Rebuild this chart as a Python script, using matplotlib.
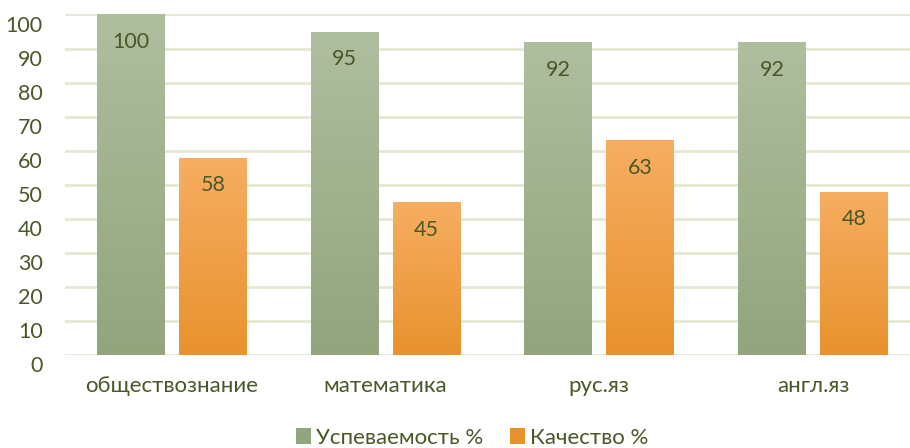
import numpy as np
import matplotlib
matplotlib.use("Agg")
import matplotlib.pyplot as plt
import matplotlib.transforms as mtransforms
from matplotlib.colors import LinearSegmentedColormap
from matplotlib.patches import Patch

subjects = ["обществознание", "математика", "рус.яз", "англ.яз"]
uspevaemost = [100, 95, 92, 92]
kachestvo = [58, 45, 63, 48]
series_names = ["Успеваемость %", "Качество %"]

TEXT = "#4a5728"
GRID = "#e4e8d2"
GREEN = ("#afbe9f", "#92a57d")   # top, bottom
ORANGE = ("#f6ae62", "#e8922d")

plt.rcParams["font.family"] = ["Lato", "DejaVu Sans"]

fig = plt.figure(figsize=(9.1, 4.48), dpi=100)
ax = fig.add_axes([65 / 910, 93 / 448, 845 / 910, 340.5 / 448])

x = np.arange(len(subjects))
w = 0.318
off = 0.192


def gradient_bars(xs, vals, colors):
    cmap = LinearSegmentedColormap.from_list("g", [colors[1], colors[0]])
    bars = ax.bar(xs, vals, width=w, color=colors[1], linewidth=0, zorder=2)
    grad = np.linspace(0, 1, 256).reshape(-1, 1)
    for b in bars:
        x0, y0 = b.get_x(), b.get_y()
        im = ax.imshow(grad, extent=[x0, x0 + b.get_width(), y0, y0 + b.get_height()],
                       origin="lower", aspect="auto", cmap=cmap, zorder=2.5)
        im.set_clip_path(b)
    for b, v in zip(bars, vals):
        ax.annotate(f"{v}", (b.get_x() + b.get_width() / 2, v), xytext=(0, -20),
                    textcoords="offset points", ha="center", va="center",
                    fontsize=15.5, color=TEXT, zorder=3)
    return bars


gradient_bars(x - off, uspevaemost, GREEN)
gradient_bars(x + off, kachestvo, ORANGE)

ax.set_xlim(-0.5, 3.454)
ax.set_ylim(0, 100)
ax.set_yticks(range(0, 101, 10))
ax.yaxis.grid(True, color=GRID, linewidth=2, zorder=0)
ax.set_axisbelow(True)
ax.set_xticks(x)
ax.set_xticklabels(subjects)
ax.tick_params(axis="both", length=0, labelsize=15.5, colors=TEXT)
ax.tick_params(axis="x", labelsize=16, pad=15)
ax.tick_params(axis="y", pad=16)
for lbl in ax.get_yticklabels():
    lbl.set_transform(lbl.get_transform() + mtransforms.ScaledTranslation(0, -9 / 100, fig.dpi_scale_trans))
for s in ax.spines.values():
    s.set_visible(False)

handles = [Patch(facecolor=GREEN[1]), Patch(facecolor=ORANGE[1])]
fig.legend(handles, series_names, loc="center", bbox_to_anchor=(472 / 910, 1 - 438 / 448),
           ncol=2, frameon=False, fontsize=16, labelcolor=TEXT,
           handlelength=0.7, handleheight=0.7, handletextpad=0.2, columnspacing=1.2)

fig.savefig("out.png", dpi=100)
